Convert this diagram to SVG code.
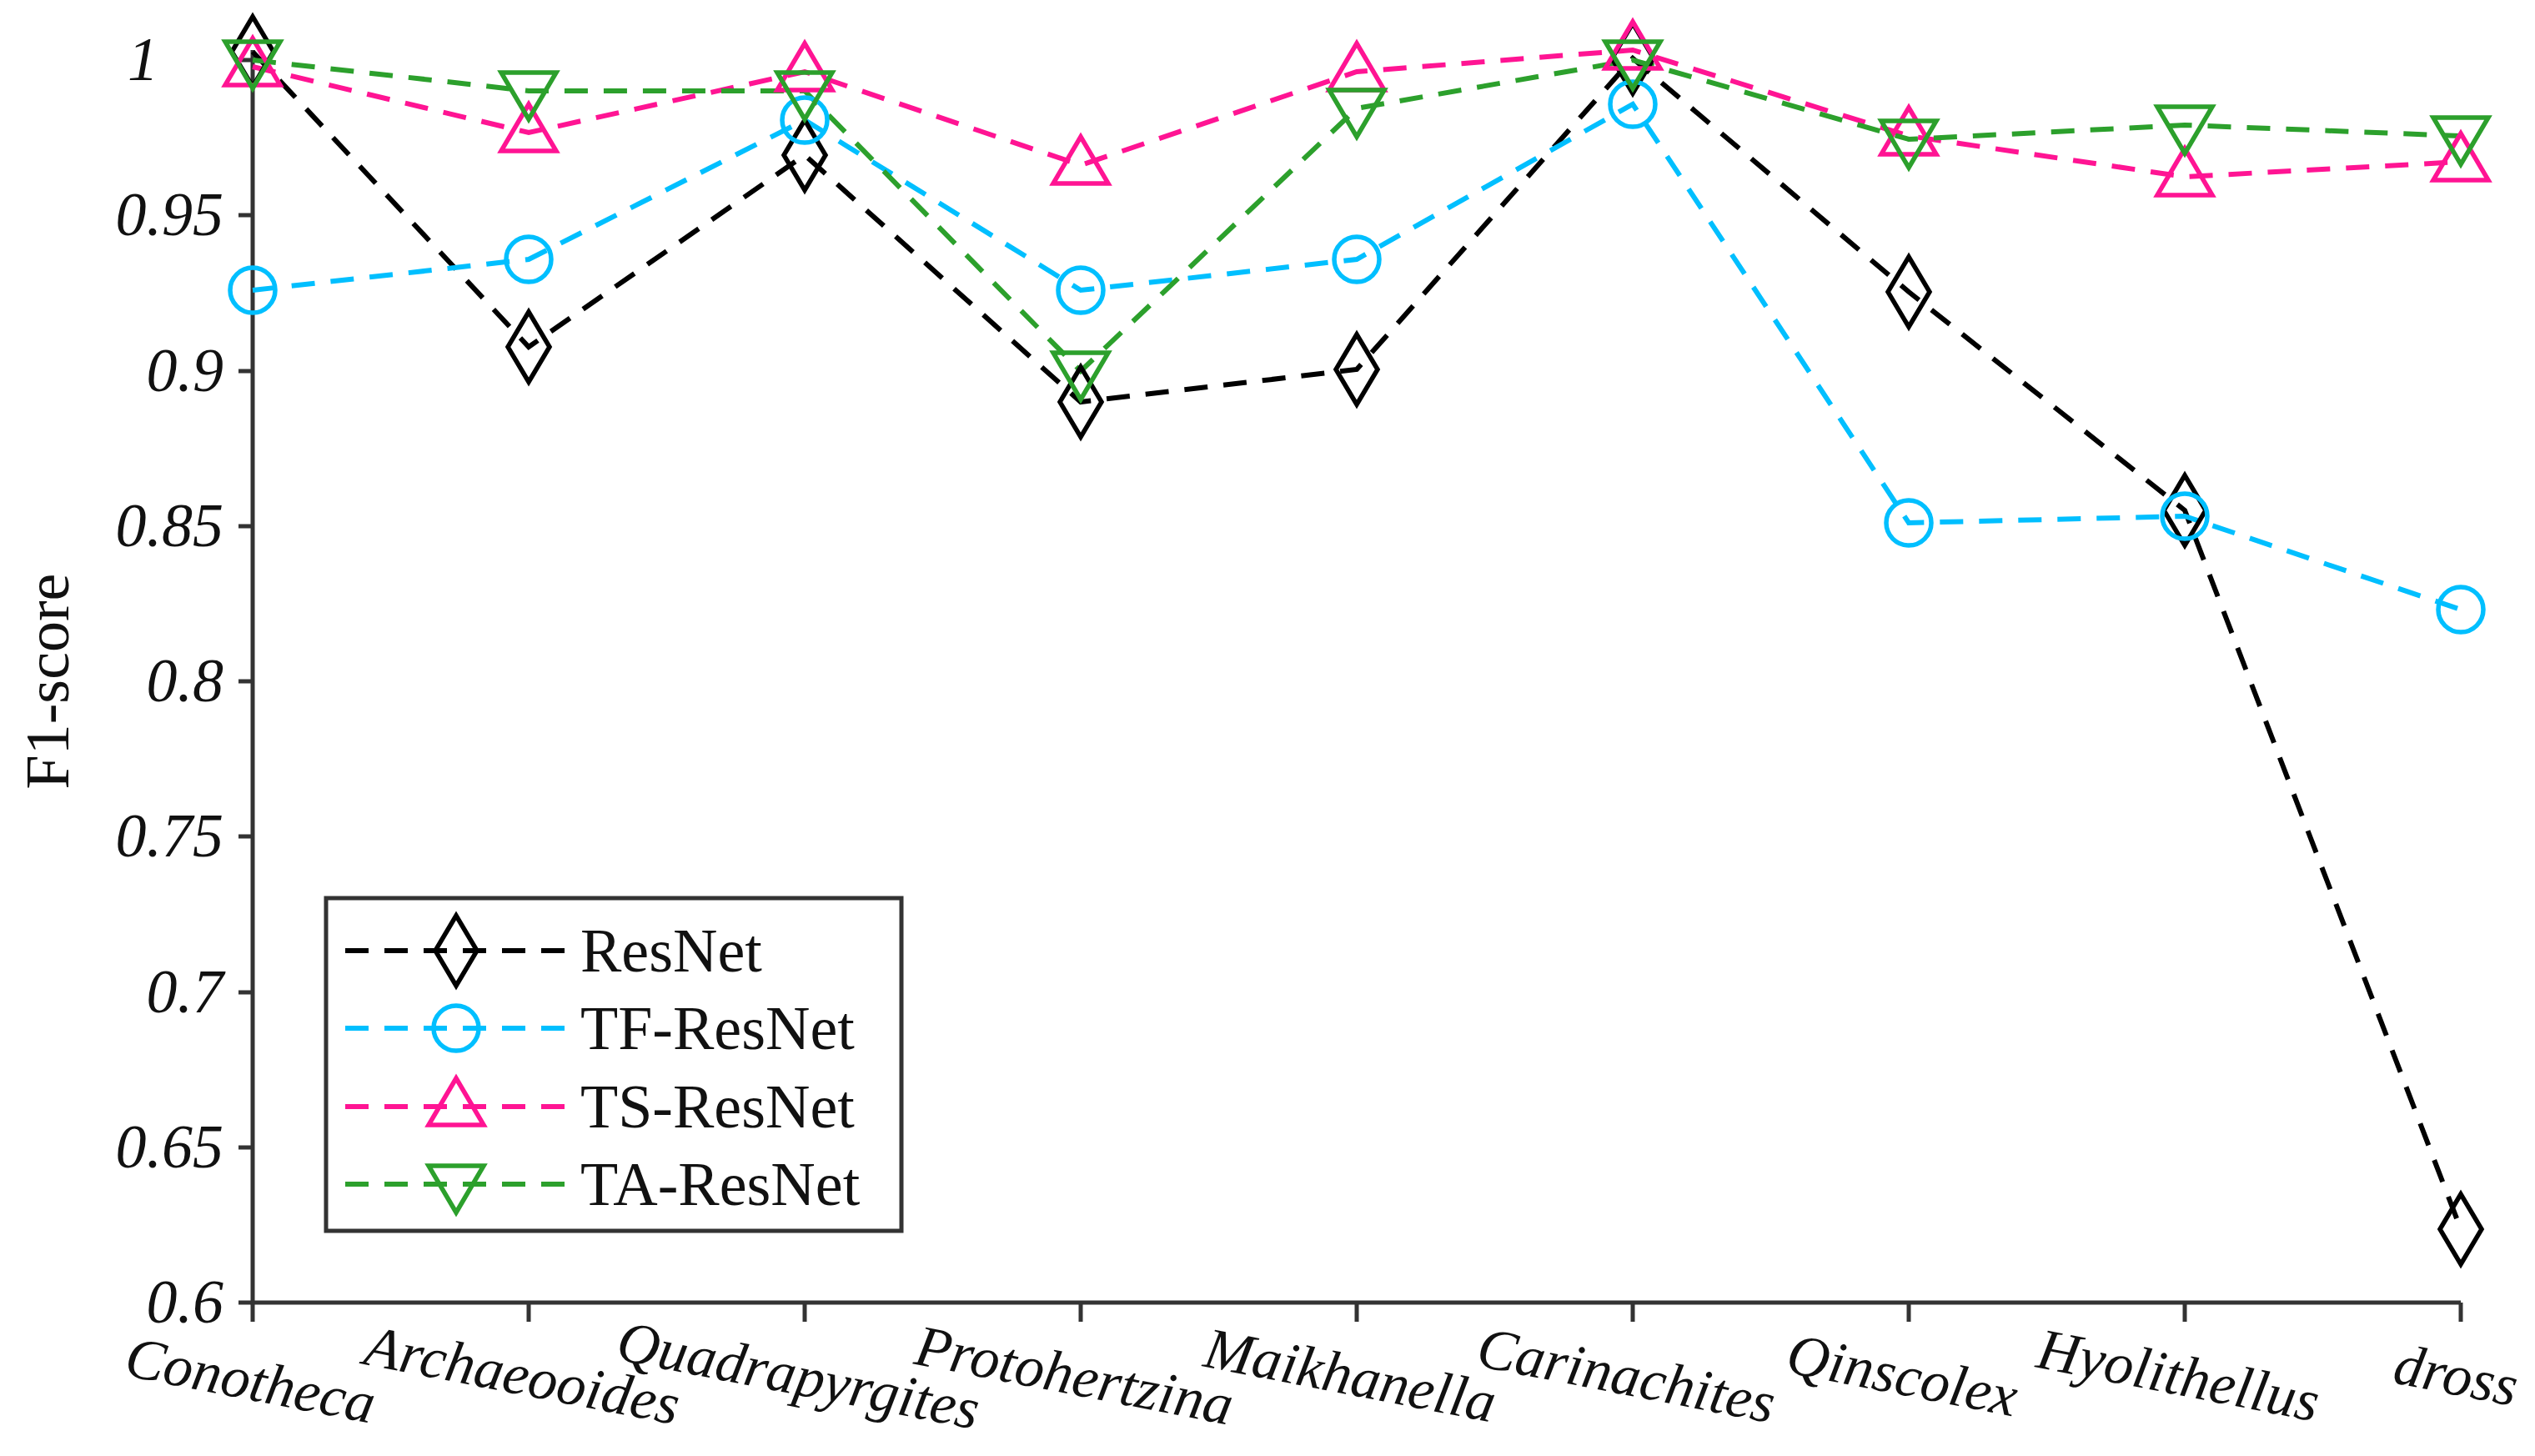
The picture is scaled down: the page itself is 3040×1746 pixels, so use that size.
<svg xmlns="http://www.w3.org/2000/svg" width="3040" height="1746" viewBox="0 0 3040 1746">
<style>
.ax{stroke:#333;stroke-width:5;fill:none}
.tl{font-family:"Liberation Serif",serif;font-style:italic;font-size:74px;fill:#111}
.xl{font-family:"Liberation Serif",serif;font-style:italic;font-size:70px;fill:#111}
.ln{fill:none;stroke-width:6;stroke-dasharray:28 19}
.mk{fill:none;stroke-width:5.5}
.k{stroke:#000}.c{stroke:#00BFFF}.m{stroke:#FF1493}.g{stroke:#2CA02C}
.lg{font-family:"Liberation Serif",serif;font-size:74px;fill:#111}
</style>
<defs>
<path id="dia" d="M0,-42 L25,0 L0,42 L-25,0 Z"/>
<circle id="cir" r="27"/>
<path id="up" d="M0,-34 L33,22 L-33,22 Z"/>
<path id="dn" d="M0,34 L33,-22 L-33,-22 Z"/>
</defs>
<rect width="3040" height="1746" fill="#fff"/>
<g id="axes">
<path class="ax" d="M303,60 V1562 H2951"/>
<path class="ax" d="M286,72H303M286,258H303M286,445H303M286,631H303M286,817H303M286,1003H303M286,1190H303M286,1376H303M286,1562H303"/>
<path class="ax" d="M303,1562V1585M634,1562V1585M965,1562V1585M1296,1562V1585M1627,1562V1585M1958,1562V1585M2289,1562V1585M2620,1562V1585M2951,1562V1585"/>
<g class="tl" text-anchor="end">
<text x="190" y="96">1</text>
<text x="268" y="282">0.95</text>
<text x="268" y="469">0.9</text>
<text x="268" y="655">0.85</text>
<text x="268" y="841">0.8</text>
<text x="268" y="1027">0.75</text>
<text x="268" y="1214">0.7</text>
<text x="268" y="1400">0.65</text>
<text x="268" y="1586">0.6</text>
</g>
<g class="xl" text-anchor="middle">
<text transform="translate(296,1678) rotate(11)">Conotheca</text>
<text transform="translate(622,1672) rotate(11)">Archaeooides</text>
<text transform="translate(953,1672) rotate(11)">Quadrapyrgites</text>
<text transform="translate(1284,1672) rotate(11)">Protohertzina</text>
<text transform="translate(1615,1672) rotate(11)">Maikhanella</text>
<text transform="translate(1946,1672) rotate(11)">Carinachites</text>
<text transform="translate(2277,1672) rotate(11)">Qinscolex</text>
<text transform="translate(2608,1672) rotate(11)">Hyolithellus</text>
<text transform="translate(2941,1672) rotate(11)">dross</text>
</g>
<text class="lg" font-size="66" text-anchor="middle" transform="translate(82,817) rotate(-90)">F1-score</text>
</g>
<g id="connectors">
<polyline class="ln k" points="303,62 634,416 965,186 1296,482 1627,443 1958,70 2289,350 2620,612 2951,1474"/>
<polyline class="ln c" points="303,348 634,311 965,144 1296,348 1627,311 1958,125 2289,627 2620,619 2951,731"/>
<polyline class="ln m" points="303,80 634,159 965,86 1296,198 1627,86 1958,60 2289,163 2620,212 2951,194"/>
<polyline class="ln g" points="303,72 634,109 965,109 1296,445 1627,130 1958,72 2289,167 2620,150 2951,163"/>
</g>
<g id="resnet" class="mk k">
<use href="#dia" x="303" y="62"/><use href="#dia" x="634" y="416"/><use href="#dia" x="965" y="186"/><use href="#dia" x="1296" y="482"/><use href="#dia" x="1627" y="443"/><use href="#dia" x="1958" y="70"/><use href="#dia" x="2289" y="350"/><use href="#dia" x="2620" y="612"/><use href="#dia" x="2951" y="1474"/>
</g>
<g id="tfresnet" class="mk c">
<use href="#cir" x="303" y="348"/><use href="#cir" x="634" y="311"/><use href="#cir" x="965" y="144"/><use href="#cir" x="1296" y="348"/><use href="#cir" x="1627" y="311"/><use href="#cir" x="1958" y="125"/><use href="#cir" x="2289" y="627"/><use href="#cir" x="2620" y="619"/><use href="#cir" x="2951" y="731"/>
</g>
<g id="tsresnet" class="mk m">
<use href="#up" x="303" y="80"/><use href="#up" x="634" y="159"/><use href="#up" x="965" y="86"/><use href="#up" x="1296" y="198"/><use href="#up" x="1627" y="86"/><use href="#up" x="1958" y="60"/><use href="#up" x="2289" y="163"/><use href="#up" x="2620" y="212"/><use href="#up" x="2951" y="194"/>
</g>
<g id="taresnet" class="mk g">
<use href="#dn" x="303" y="72"/><use href="#dn" x="634" y="109"/><use href="#dn" x="965" y="109"/><use href="#dn" x="1296" y="445"/><use href="#dn" x="1627" y="130"/><use href="#dn" x="1958" y="72"/><use href="#dn" x="2289" y="167"/><use href="#dn" x="2620" y="150"/><use href="#dn" x="2951" y="163"/>
</g>
<g id="legend">
<rect x="391" y="1077" width="690" height="399" fill="#fff" stroke="#333" stroke-width="5"/>
<line class="ln k" x1="414" y1="1140" x2="680" y2="1140"/><use class="mk k" href="#dia" x="547" y="1140"/><text class="lg" x="696" y="1165">ResNet</text>
<line class="ln c" x1="414" y1="1233" x2="680" y2="1233"/><use class="mk c" href="#cir" x="547" y="1233"/><text class="lg" x="696" y="1258">TF-ResNet</text>
<line class="ln m" x1="414" y1="1327" x2="680" y2="1327"/><use class="mk m" href="#up" x="547" y="1327"/><text class="lg" x="696" y="1352">TS-ResNet</text>
<line class="ln g" x1="414" y1="1420" x2="680" y2="1420"/><use class="mk g" href="#dn" x="547" y="1420"/><text class="lg" x="696" y="1445">TA-ResNet</text>
</g>
</svg>
